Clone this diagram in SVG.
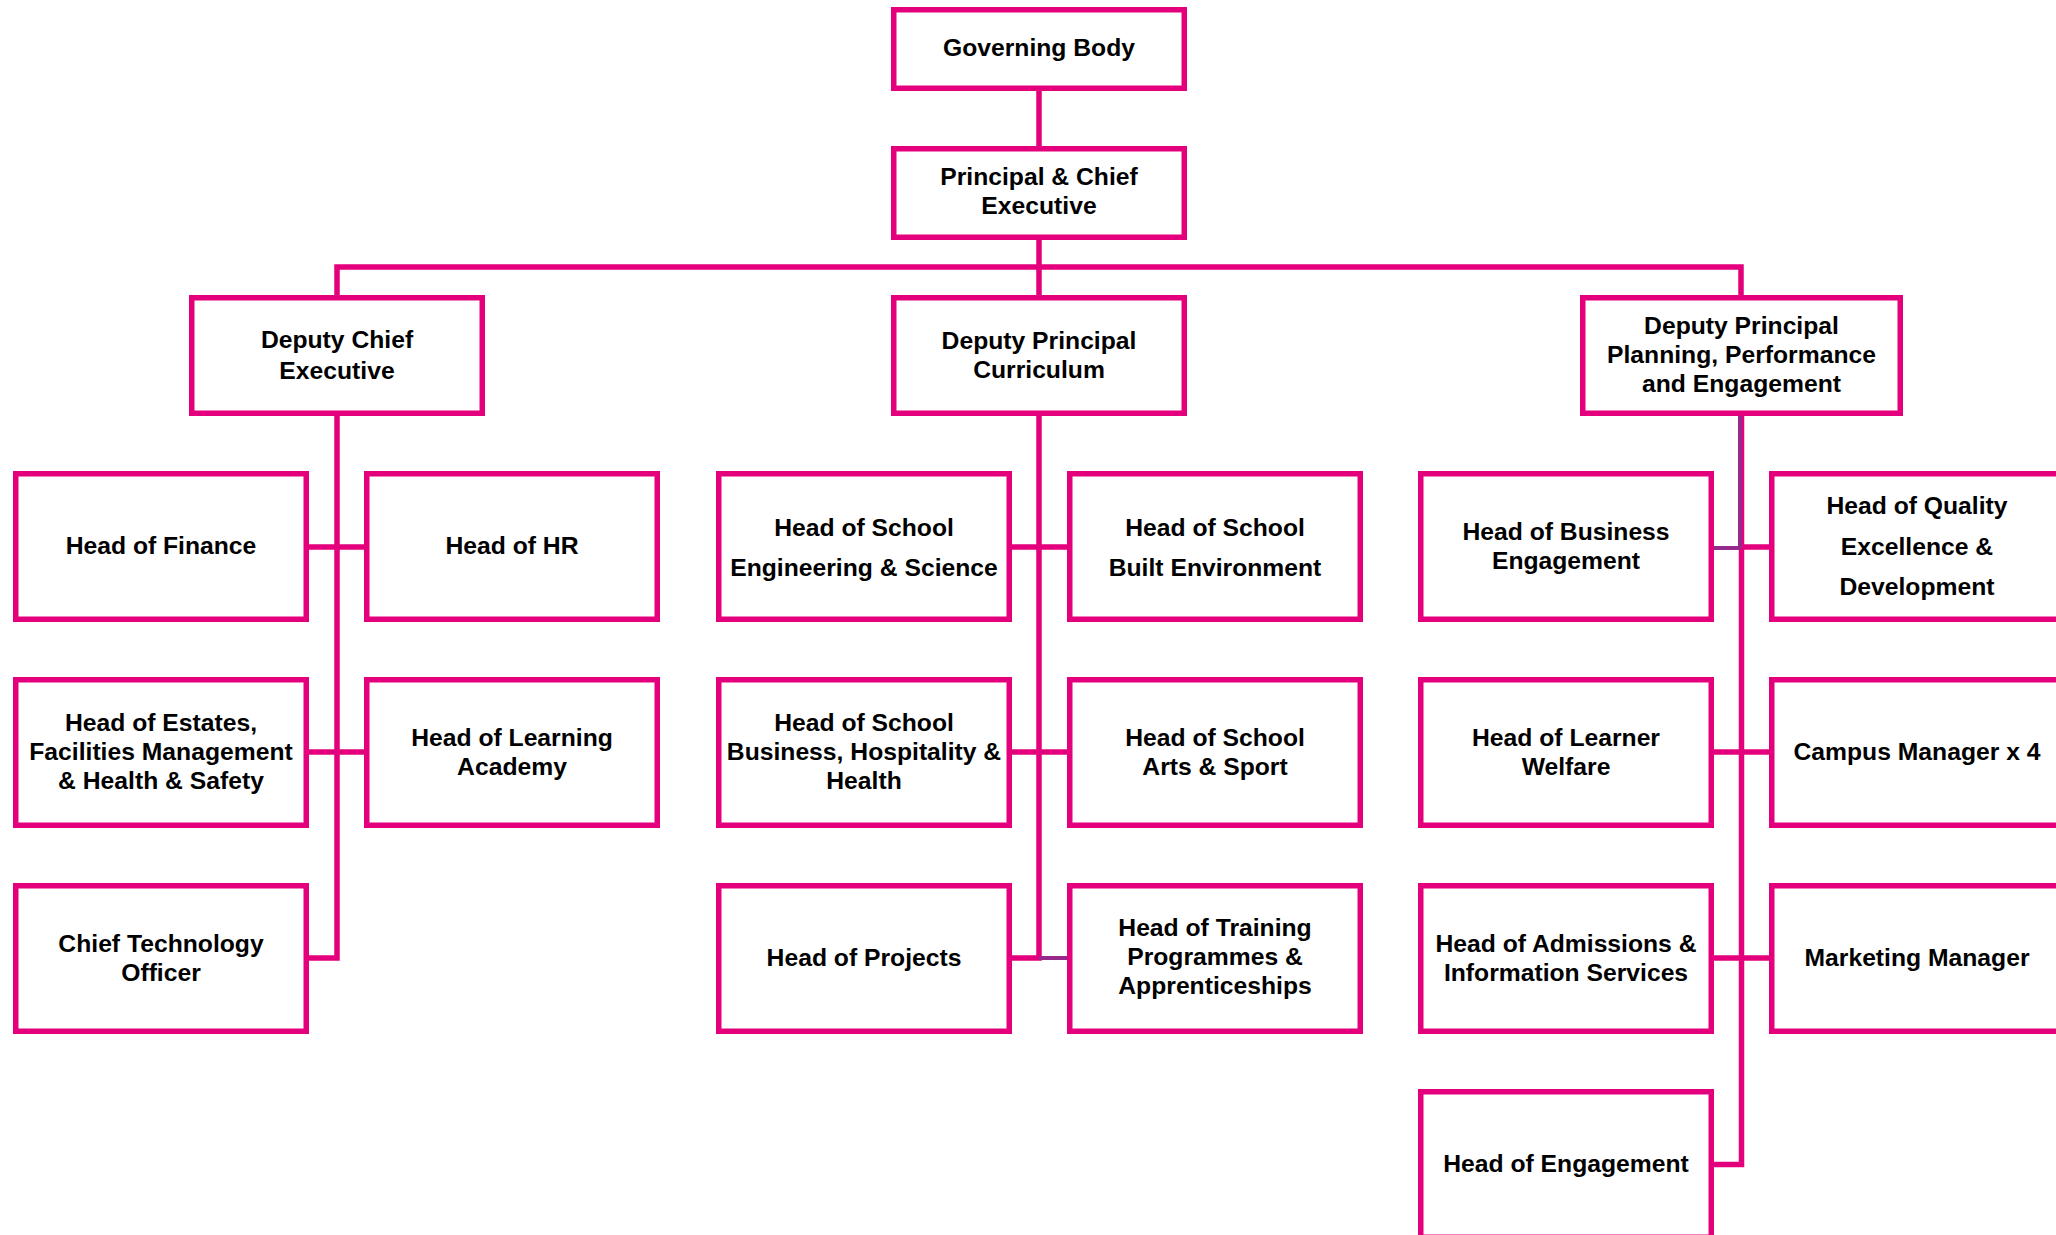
<svg xmlns="http://www.w3.org/2000/svg" width="2056" height="1235" viewBox="0 0 2056 1235">
<style>
.box{fill:#fff;stroke:#E4007C;stroke-width:5.5}
.t{font-family:"Liberation Sans",Arial,sans-serif;font-weight:bold;font-size:24.7px;fill:#000;text-anchor:middle}
.c{stroke:#E4007C;stroke-width:5.5;fill:none;stroke-linecap:square}
.p{stroke:#962A8C;stroke-width:4;fill:none;stroke-linecap:butt}
</style>
<rect width="2056" height="1235" fill="#fff"/>
<g id="connectors">
<path class="c" d="M1039 91V146 M1039 240V295 M337 267H1741 M337 267V295 M1741 267V295"/>
<path class="c" d="M337 416V958H309 M309 547H364 M309 752H364"/>
<path class="c" d="M1039 416V958H1011 M1011 547H1067 M1011 752H1067"/>
<path class="p" d="M1039 958H1067"/>
<path class="c" d="M1741.5 416V1164.5H1714 M1741 547H1769 M1714 752H1769 M1714 958H1769"/>
<path class="p" d="M1740 416V548.5 M1714 548H1740"/>
</g>
<g id="governing-body"><rect class="box" x="893.75" y="9.75" width="290.5" height="78.5"/><text class="t" x="1039" y="55.5">Governing Body</text></g>
<g id="principal"><rect class="box" x="893.75" y="148.75" width="290.5" height="88.5"/><text class="t" x="1039" y="185">Principal &amp; Chief</text><text class="t" x="1039" y="213.5">Executive</text></g>
<g id="deputy-chief-executive"><rect class="box" x="191.75" y="297.75" width="290.5" height="115.5"/><text class="t" x="337" y="348">Deputy Chief</text><text class="t" x="337" y="379">Executive</text></g>
<g id="deputy-principal-curriculum"><rect class="box" x="893.75" y="297.75" width="290.5" height="115.5"/><text class="t" x="1039" y="348.5">Deputy Principal</text><text class="t" x="1039" y="377.5">Curriculum</text></g>
<g id="deputy-principal-ppe"><rect class="box" x="1582.75" y="297.75" width="317.5" height="115.5"/><text class="t" x="1741.5" y="334">Deputy Principal</text><text class="t" x="1741.5" y="363">Planning, Performance</text><text class="t" x="1741.5" y="392">and Engagement</text></g>

<g id="head-finance"><rect class="box" x="15.75" y="473.75" width="290.5" height="145.5"/><text class="t" x="161" y="554">Head of Finance</text></g>
<g id="head-hr"><rect class="box" x="366.75" y="473.75" width="290.5" height="145.5"/><text class="t" x="512" y="554">Head of HR</text></g>
<g id="head-estates"><rect class="box" x="15.75" y="679.75" width="290.5" height="145.5"/><text class="t" x="161" y="730.5">Head of Estates,</text><text class="t" x="161" y="760">Facilities Management</text><text class="t" x="161" y="789">&amp; Health &amp; Safety</text></g>
<g id="head-learning-academy"><rect class="box" x="366.75" y="679.75" width="290.5" height="145.5"/><text class="t" x="512" y="746">Head of Learning</text><text class="t" x="512" y="775">Academy</text></g>
<g id="cto"><rect class="box" x="15.75" y="885.75" width="290.5" height="145.5"/><text class="t" x="161" y="952">Chief Technology</text><text class="t" x="161" y="980.5">Officer</text></g>

<g id="head-school-eng"><rect class="box" x="718.75" y="473.75" width="290.5" height="145.5"/><text class="t" x="864" y="535.5">Head of School</text><text class="t" x="864" y="576">Engineering &amp; Science</text></g>
<g id="head-school-built"><rect class="box" x="1069.75" y="473.75" width="290.5" height="145.5"/><text class="t" x="1215" y="535.5">Head of School</text><text class="t" x="1215" y="576">Built Environment</text></g>
<g id="head-school-business"><rect class="box" x="718.75" y="679.75" width="290.5" height="145.5"/><text class="t" x="864" y="730.5">Head of School</text><text class="t" x="864" y="760">Business, Hospitality &amp;</text><text class="t" x="864" y="789">Health</text></g>
<g id="head-school-arts"><rect class="box" x="1069.75" y="679.75" width="290.5" height="145.5"/><text class="t" x="1215" y="746">Head of School</text><text class="t" x="1215" y="775">Arts &amp; Sport</text></g>
<g id="head-projects"><rect class="box" x="718.75" y="885.75" width="290.5" height="145.5"/><text class="t" x="864" y="966">Head of Projects</text></g>
<g id="head-training"><rect class="box" x="1069.75" y="885.75" width="290.5" height="145.5"/><text class="t" x="1215" y="936">Head of Training</text><text class="t" x="1215" y="965">Programmes &amp;</text><text class="t" x="1215" y="994">Apprenticeships</text></g>

<g id="head-business-engagement"><rect class="box" x="1420.75" y="473.75" width="290.5" height="145.5"/><text class="t" x="1566" y="540">Head of Business</text><text class="t" x="1566" y="569">Engagement</text></g>
<g id="head-quality"><rect class="box" x="1771.75" y="473.75" width="290.5" height="145.5"/><text class="t" x="1917" y="514">Head of Quality</text><text class="t" x="1917" y="554.5">Excellence &amp;</text><text class="t" x="1917" y="595">Development</text></g>
<g id="head-learner-welfare"><rect class="box" x="1420.75" y="679.75" width="290.5" height="145.5"/><text class="t" x="1566" y="746">Head of Learner</text><text class="t" x="1566" y="775">Welfare</text></g>
<g id="campus-manager"><rect class="box" x="1771.75" y="679.75" width="290.5" height="145.5"/><text class="t" x="1917" y="759.5">Campus Manager x 4</text></g>
<g id="head-admissions"><rect class="box" x="1420.75" y="885.75" width="290.5" height="145.5"/><text class="t" x="1566" y="952">Head of Admissions &amp;</text><text class="t" x="1566" y="981">Information Services</text></g>
<g id="marketing-manager"><rect class="box" x="1771.75" y="885.75" width="290.5" height="145.5"/><text class="t" x="1917" y="966">Marketing Manager</text></g>
<g id="head-engagement"><rect class="box" x="1420.75" y="1091.75" width="290.5" height="145.5"/><text class="t" x="1566" y="1172">Head of Engagement</text></g>
</svg>
